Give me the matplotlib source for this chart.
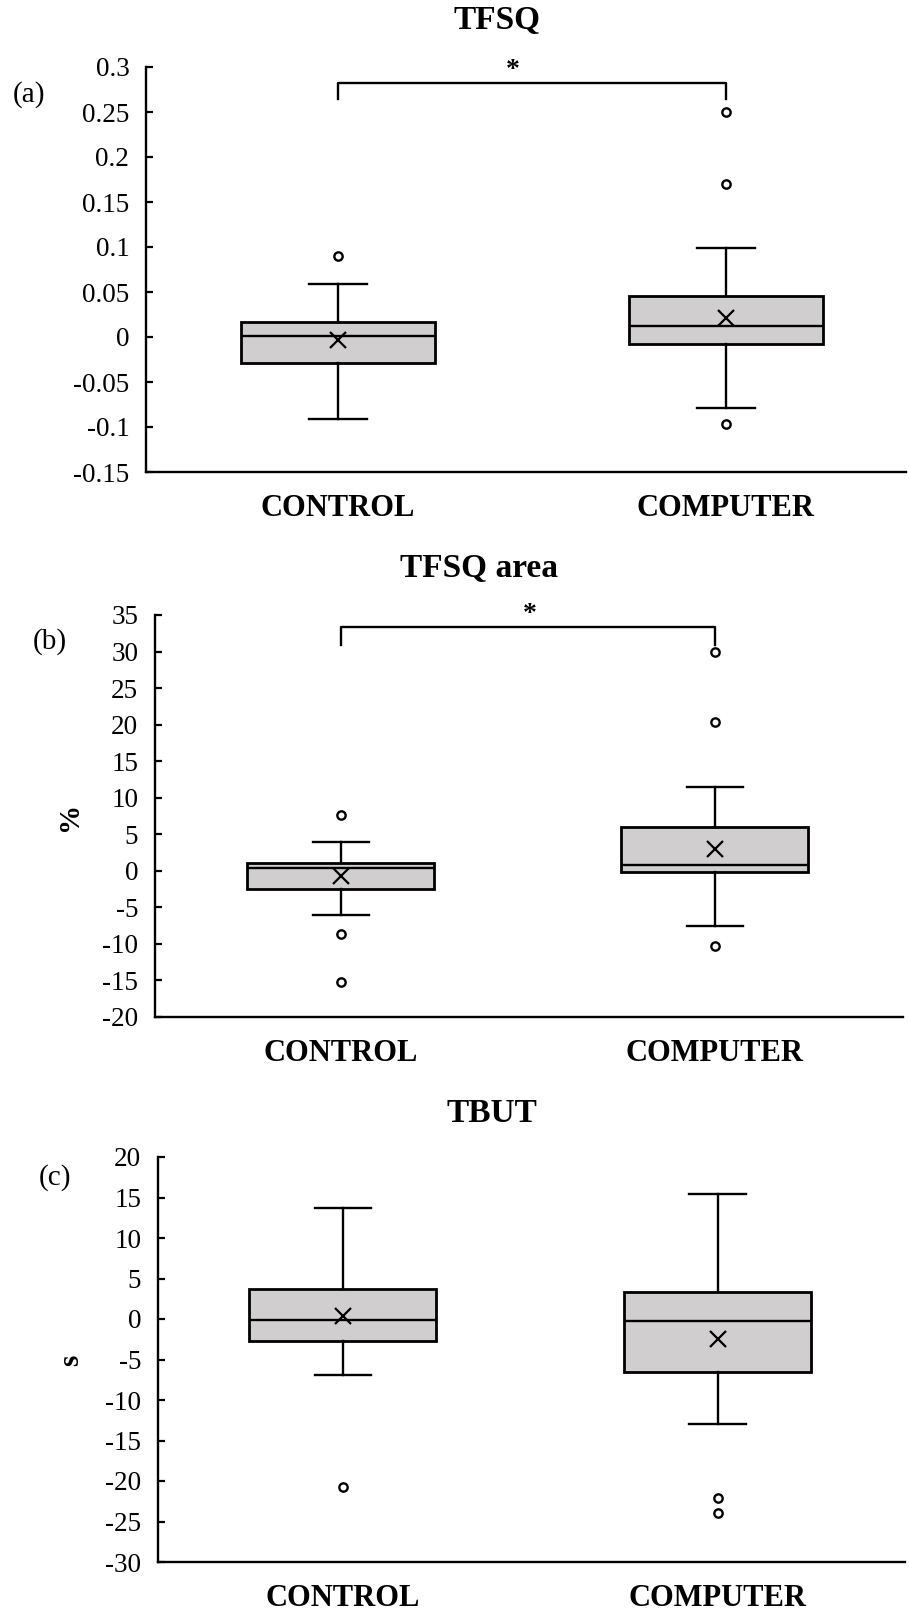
import numpy as np
import matplotlib
matplotlib.use('Agg')
import matplotlib.pyplot as plt
from matplotlib import ticker

plt.rcParams['font.family'] = ['Liberation Serif', 'DejaVu Serif']
plt.rcParams['axes.unicode_minus'] = False

# ---------- data ----------
groups = ['CONTROL', 'COMPUTER']

# TFSQ
tfsq_whislo = [-0.091, -0.079]
tfsq_q1 = [-0.029, -0.008]
tfsq_med = [0.001, 0.012]
tfsq_q3 = [0.017, 0.046]
tfsq_whishi = [0.059, 0.099]
tfsq_mean = [-0.003, 0.021]
tfsq_fliers = [[0.09], [0.25, 0.17, -0.097]]
tfsq_ticks = [-0.15, -0.1, -0.05, 0, 0.05, 0.1, 0.15, 0.2, 0.25, 0.3]

# TFSQ area (%)
area_whislo = [-6.1, -7.5]
area_q1 = [-2.5, -0.2]
area_med = [0.35, 0.8]
area_q3 = [1.03, 6.04]
area_whishi = [3.9, 11.5]
area_mean = [-0.7, 2.95]
area_fliers = [[7.6, -8.7, -15.2], [30.0, 20.4, -10.3]]
area_ticks = [-20, -15, -10, -5, 0, 5, 10, 15, 20, 25, 30, 35]

# TBUT (s)
tbut_whislo = [-6.86, -12.97]
tbut_q1 = [-2.77, -6.6]
tbut_med = [-0.13, -0.29]
tbut_q3 = [3.76, 3.35]
tbut_whishi = [13.67, 15.4]
tbut_mean = [0.42, -2.43]
tbut_fliers = [[-20.8], [-22.05, -23.93]]
tbut_ticks = [-30, -25, -20, -15, -10, -5, 0, 5, 10, 15, 20]

# significance brackets (top, leg end)
tfsq_sig = [0.282, 0.264]
area_sig = [33.4, 30.9]


def make_stats(whislo, q1, med, q3, whishi, mean, fliers):
    return [dict(whislo=whislo[i], q1=q1[i], med=med[i], q3=q3[i],
                 whishi=whishi[i], mean=mean[i], fliers=fliers[i])
            for i in range(len(groups))]


W, H = 909, 1611
fig = plt.figure(figsize=(W / 100, H / 100), dpi=100, facecolor='white')


def add_panel(px_left, px_right, px_top, px_bottom, stats, ticks, xlim):
    ax = fig.add_axes([px_left / W, 1 - px_bottom / H,
                       (px_right - px_left) / W, (px_bottom - px_top) / H])
    ax.bxp(stats, positions=[1, 2], widths=0.5, capwidths=0.15,
           patch_artist=True, showmeans=True,
           boxprops=dict(facecolor='#D0CECF', edgecolor='black', linewidth=2.0),
           whiskerprops=dict(color='black', linewidth=1.7),
           capprops=dict(color='black', linewidth=1.7),
           medianprops=dict(color='black', linewidth=1.7),
           meanprops=dict(marker='x', markeredgecolor='black', markersize=11,
                          markeredgewidth=1.6),
           flierprops=dict(marker='o', markerfacecolor='white',
                           markeredgecolor='black', markersize=6,
                           markeredgewidth=1.7))
    ax.set_xlim(*xlim)
    ax.set_ylim(ticks[0], ticks[-1])
    ax.set_yticks(ticks)
    ax.yaxis.set_major_formatter(
        ticker.FuncFormatter(lambda v, _: f'{round(v, 3) + 0.0:g}'))
    ax.set_xticks([1, 2], groups, fontweight='bold', fontsize=22)
    ax.tick_params(axis='x', length=0, pad=16)
    ax.tick_params(axis='y', direction='in', length=5, width=1.6, pad=12,
                   labelsize=19.5)
    for s in ['top', 'right']:
        ax.spines[s].set_visible(False)
    for s in ['left', 'bottom']:
        ax.spines[s].set_linewidth(1.7)
    return ax


def add_bracket(ax, sig, star_x):
    ax.plot([1, 1, 2, 2], [sig[1], sig[0], sig[0], sig[1]], color='black',
            lw=1.7, solid_joinstyle='round', clip_on=False)
    ax.text(star_x, sig[0], '*', ha='center', va='bottom', fontsize=20,
            fontweight='bold')


# (a) TFSQ
ax_a = add_panel(146, 906, 67, 472,
                 make_stats(tfsq_whislo, tfsq_q1, tfsq_med, tfsq_q3,
                            tfsq_whishi, tfsq_mean, tfsq_fliers),
                 tfsq_ticks, (0.505, 2.464))
add_bracket(ax_a, tfsq_sig, 1.45)

# (b) TFSQ area
ax_b = add_panel(155, 903, 615, 1017,
                 make_stats(area_whislo, area_q1, area_med, area_q3,
                            area_whishi, area_mean, area_fliers),
                 area_ticks, (0.503, 2.503))
add_bracket(ax_b, area_sig, 1.505)

# (c) TBUT
ax_c = add_panel(158, 905, 1157, 1562,
                 make_stats(tbut_whislo, tbut_q1, tbut_med, tbut_q3,
                            tbut_whishi, tbut_mean, tbut_fliers),
                 tbut_ticks, (0.507, 2.5))

# titles, panel letters, unit labels
fig.text(497 / W, 1 - 21 / H, 'TFSQ', ha='center', va='center',
         fontsize=24, fontweight='bold')
fig.text(479 / W, 1 - 569 / H, 'TFSQ area', ha='center', va='center',
         fontsize=24, fontweight='bold')
fig.text(492 / W, 1 - 1113 / H, 'TBUT', ha='center', va='center',
         fontsize=24, fontweight='bold')

fig.text(29 / W, 1 - 95 / H, '(a)', ha='center', va='center', fontsize=21)
fig.text(50 / W, 1 - 642 / H, '(b)', ha='center', va='center', fontsize=21)
fig.text(55 / W, 1 - 1178 / H, '(c)', ha='center', va='center', fontsize=21)

fig.text(69 / W, 1 - 816 / H, '%', ha='center', va='center', rotation=90,
         fontsize=21, fontweight='bold')
fig.text(71 / W, 1 - 1360 / H, 's', ha='center', va='center', rotation=90,
         fontsize=21, fontweight='bold')

fig.savefig('out.png', dpi=100, facecolor='white')
